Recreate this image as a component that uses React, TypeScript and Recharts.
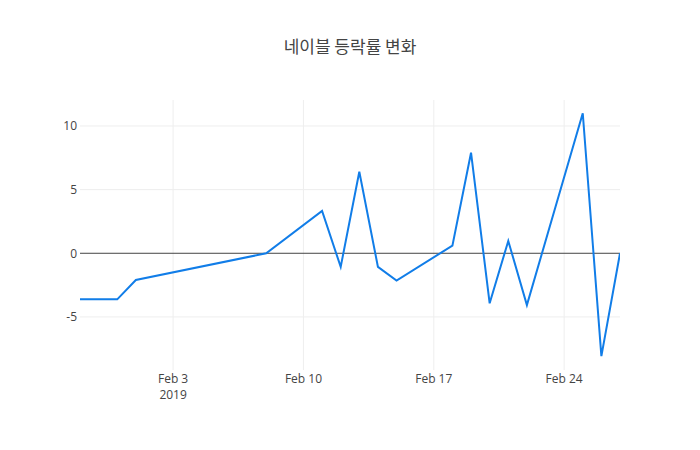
import { LineChart, Line, XAxis, YAxis, ReferenceLine } from 'recharts'

const dates = [
  '2019-01-29', '2019-01-31', '2019-02-01', '2019-02-08', '2019-02-11',
  '2019-02-12', '2019-02-13', '2019-02-14', '2019-02-15', '2019-02-18',
  '2019-02-19', '2019-02-20', '2019-02-21', '2019-02-22', '2019-02-25',
  '2019-02-26', '2019-02-27',
]
const changes = [
  -3.62, -3.62, -2.1, 0.0, 3.32,
  -1.07, 6.4, -1.07, -2.14, 0.6,
  7.9, -3.93, 0.97, -4.07, 11.0,
  -8.08, 0.0,
]
const tickDates = ['2019-02-03', '2019-02-10', '2019-02-17', '2019-02-24']
const tickLabels = ['Feb 3', 'Feb 10', 'Feb 17', 'Feb 24']
const yTicks = [-5, 0, 5, 10]

const toTime = (d: string) => Date.parse(d + 'T00:00:00Z')

const data = dates.map((d, i) => ({ t: toTime(d), v: changes[i] }))
const xTicks = tickDates.map(toTime)

const FONT = '"Open Sans", "Noto Sans", sans-serif'

// first tick carries the year on a second line, like plotly does
function DateTick(props: any) {
  const { x, y, payload } = props
  const i = xTicks.indexOf(payload.value)
  return (
    <text x={x} y={y} textAnchor="middle" fill="#444" fontSize={12} fontFamily={FONT}>
      <tspan x={x} dy="0.71em">{tickLabels[i]}</tspan>
      {i === 0 && (
        <tspan x={x} dy={16}>2019</tspan>
      )}
    </text>
  )
}

export default function App() {
  return (
    <div style={{ position: 'fixed', left: 0, top: 0, width: 700, height: 450, background: '#fff' }}>
      <div
        style={{
          position: 'absolute',
          left: 0,
          width: 700,
          top: 33,
          textAlign: 'center',
          fontSize: 17,
          color: '#444',
          fontFamily: '"Noto Sans CJK KR", "Open Sans", sans-serif',
        }}
      >
        네이블 등락률 변화
      </div>
      <LineChart width={700} height={450} data={data} margin={{ top: 100, right: 80, bottom: 0, left: 0 }}>
        <XAxis
          dataKey="t"
          type="number"
          scale="linear"
          domain={[toTime('2019-01-29'), toTime('2019-02-27')]}
          ticks={xTicks}
          tick={<DateTick />}
          tickLine={false}
          axisLine={false}
          tickSize={0}
          tickMargin={4}
          height={80}
          allowDataOverflow
        />
        <YAxis
          type="number"
          domain={[-9.17, 12.04]}
          ticks={yTicks}
          tickLine={false}
          axisLine={false}
          tickSize={0}
          tickMargin={3}
          width={80}
          tick={{ fill: '#444', fontSize: 12, fontFamily: FONT }}
          allowDataOverflow
        />
        {xTicks.map((t) => (
          <ReferenceLine key={t} x={t} stroke="#eeeeee" strokeWidth={1} />
        ))}
        {yTicks.filter((v) => v !== 0).map((v) => (
          <ReferenceLine key={v} y={v} stroke="#eeeeee" strokeWidth={1} />
        ))}
        <ReferenceLine y={0} stroke="#444" strokeWidth={1} />
        <Line
          type="linear"
          dataKey="v"
          stroke="#117de8"
          strokeWidth={2}
          dot={false}
          activeDot={false}
          isAnimationActive={false}
        />
      </LineChart>
    </div>
  )
}
